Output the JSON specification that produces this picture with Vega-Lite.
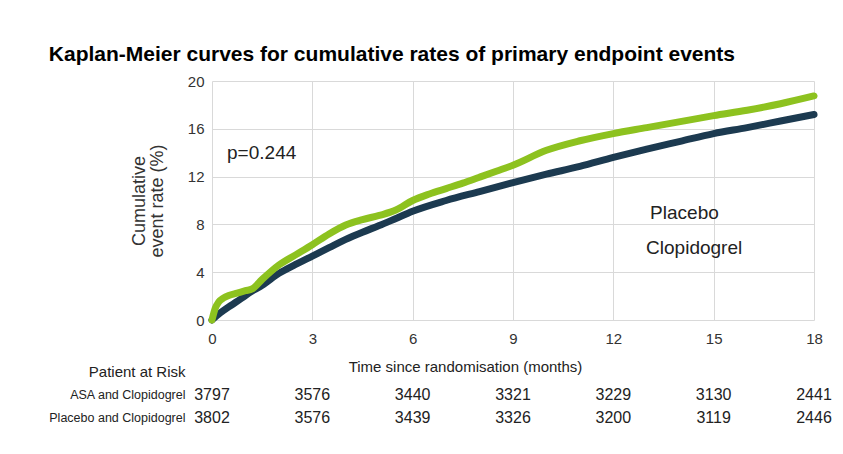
{
  "$schema": "https://vega.github.io/schema/vega-lite/v6.json",
  "background": "white",
  "padding": {"left": 48, "top": 44, "right": 8, "bottom": 5},
  "config": {"view": {"stroke": null}, "font": "Liberation Sans", "concat": {"spacing": 13}},
  "title": {"text": "Kaplan-Meier curves for cumulative rates of primary endpoint events", "anchor": "start", "frame": "bounds", "fontSize": 21, "fontWeight": "bold", "font": "Liberation Sans", "color": "#000000", "offset": 9, "dx": 0},
  "datasets": {
    "curves": [
      {"arm": "ASA and Clopidogrel", "month": 0, "rate": 0},
      {"arm": "ASA and Clopidogrel", "month": 0.25, "rate": 0.6},
      {"arm": "ASA and Clopidogrel", "month": 0.5, "rate": 1.1},
      {"arm": "ASA and Clopidogrel", "month": 0.75, "rate": 1.55},
      {"arm": "ASA and Clopidogrel", "month": 1.0, "rate": 2.05},
      {"arm": "ASA and Clopidogrel", "month": 1.25, "rate": 2.5},
      {"arm": "ASA and Clopidogrel", "month": 1.5, "rate": 2.9},
      {"arm": "ASA and Clopidogrel", "month": 2.0, "rate": 3.9},
      {"arm": "ASA and Clopidogrel", "month": 2.5, "rate": 4.65},
      {"arm": "ASA and Clopidogrel", "month": 3.0, "rate": 5.35},
      {"arm": "ASA and Clopidogrel", "month": 3.5, "rate": 6.05},
      {"arm": "ASA and Clopidogrel", "month": 4.0, "rate": 6.75},
      {"arm": "ASA and Clopidogrel", "month": 4.5, "rate": 7.35},
      {"arm": "ASA and Clopidogrel", "month": 5.0, "rate": 7.9},
      {"arm": "ASA and Clopidogrel", "month": 5.5, "rate": 8.5},
      {"arm": "ASA and Clopidogrel", "month": 6.0, "rate": 9.1},
      {"arm": "ASA and Clopidogrel", "month": 7.0, "rate": 10.0},
      {"arm": "ASA and Clopidogrel", "month": 8.0, "rate": 10.75},
      {"arm": "ASA and Clopidogrel", "month": 9.0, "rate": 11.5},
      {"arm": "ASA and Clopidogrel", "month": 10.0, "rate": 12.2},
      {"arm": "ASA and Clopidogrel", "month": 11.0, "rate": 12.85},
      {"arm": "ASA and Clopidogrel", "month": 12.0, "rate": 13.6},
      {"arm": "ASA and Clopidogrel", "month": 13.0, "rate": 14.3},
      {"arm": "ASA and Clopidogrel", "month": 14.0, "rate": 14.95},
      {"arm": "ASA and Clopidogrel", "month": 15.0, "rate": 15.6},
      {"arm": "ASA and Clopidogrel", "month": 16.0, "rate": 16.1},
      {"arm": "ASA and Clopidogrel", "month": 17.0, "rate": 16.65},
      {"arm": "ASA and Clopidogrel", "month": 18.0, "rate": 17.2},
      {"arm": "Placebo and Clopidogrel", "month": 0, "rate": 0},
      {"arm": "Placebo and Clopidogrel", "month": 0.1, "rate": 1.0},
      {"arm": "Placebo and Clopidogrel", "month": 0.2, "rate": 1.5},
      {"arm": "Placebo and Clopidogrel", "month": 0.35, "rate": 1.85},
      {"arm": "Placebo and Clopidogrel", "month": 0.5, "rate": 2.05},
      {"arm": "Placebo and Clopidogrel", "month": 0.75, "rate": 2.25},
      {"arm": "Placebo and Clopidogrel", "month": 1.0, "rate": 2.45},
      {"arm": "Placebo and Clopidogrel", "month": 1.2, "rate": 2.6},
      {"arm": "Placebo and Clopidogrel", "month": 1.5, "rate": 3.4},
      {"arm": "Placebo and Clopidogrel", "month": 2.0, "rate": 4.6},
      {"arm": "Placebo and Clopidogrel", "month": 2.5, "rate": 5.45},
      {"arm": "Placebo and Clopidogrel", "month": 3.0, "rate": 6.3},
      {"arm": "Placebo and Clopidogrel", "month": 3.5, "rate": 7.2},
      {"arm": "Placebo and Clopidogrel", "month": 4.0, "rate": 7.95},
      {"arm": "Placebo and Clopidogrel", "month": 4.5, "rate": 8.4},
      {"arm": "Placebo and Clopidogrel", "month": 5.0, "rate": 8.75},
      {"arm": "Placebo and Clopidogrel", "month": 5.5, "rate": 9.2},
      {"arm": "Placebo and Clopidogrel", "month": 6.0, "rate": 10.0},
      {"arm": "Placebo and Clopidogrel", "month": 6.5, "rate": 10.55},
      {"arm": "Placebo and Clopidogrel", "month": 7.0, "rate": 11.0},
      {"arm": "Placebo and Clopidogrel", "month": 7.5, "rate": 11.45},
      {"arm": "Placebo and Clopidogrel", "month": 8.0, "rate": 11.95},
      {"arm": "Placebo and Clopidogrel", "month": 8.5, "rate": 12.45},
      {"arm": "Placebo and Clopidogrel", "month": 9.0, "rate": 12.95},
      {"arm": "Placebo and Clopidogrel", "month": 10.0, "rate": 14.2},
      {"arm": "Placebo and Clopidogrel", "month": 11.0, "rate": 15.0},
      {"arm": "Placebo and Clopidogrel", "month": 12.0, "rate": 15.6},
      {"arm": "Placebo and Clopidogrel", "month": 13.0, "rate": 16.1},
      {"arm": "Placebo and Clopidogrel", "month": 14.0, "rate": 16.6},
      {"arm": "Placebo and Clopidogrel", "month": 15.0, "rate": 17.1},
      {"arm": "Placebo and Clopidogrel", "month": 16.0, "rate": 17.55},
      {"arm": "Placebo and Clopidogrel", "month": 17.0, "rate": 18.1},
      {"arm": "Placebo and Clopidogrel", "month": 18.0, "rate": 18.75}
    ],
    "notes": [
      {"label": "p=0.244", "month": 0.45, "rate": 13.97},
      {"label": "Placebo", "month": 13.1, "rate": 8.95},
      {"label": "Clopidogrel", "month": 12.98, "rate": 6.03}
    ],
    "risk": [
      {"arm": "ASA and Clopidogrel", "month": 0, "n": 3797},
      {"arm": "ASA and Clopidogrel", "month": 3, "n": 3576},
      {"arm": "ASA and Clopidogrel", "month": 6, "n": 3440},
      {"arm": "ASA and Clopidogrel", "month": 9, "n": 3321},
      {"arm": "ASA and Clopidogrel", "month": 12, "n": 3229},
      {"arm": "ASA and Clopidogrel", "month": 15, "n": 3130},
      {"arm": "ASA and Clopidogrel", "month": 18, "n": 2441},
      {"arm": "Placebo and Clopidogrel", "month": 0, "n": 3802},
      {"arm": "Placebo and Clopidogrel", "month": 3, "n": 3576},
      {"arm": "Placebo and Clopidogrel", "month": 6, "n": 3439},
      {"arm": "Placebo and Clopidogrel", "month": 9, "n": 3326},
      {"arm": "Placebo and Clopidogrel", "month": 12, "n": 3200},
      {"arm": "Placebo and Clopidogrel", "month": 15, "n": 3119},
      {"arm": "Placebo and Clopidogrel", "month": 18, "n": 2446}
    ]
  },
  "vconcat": [
    {
      "width": 602,
      "height": 239,
      "encoding": {
        "x": {"field": "month", "type": "quantitative", "scale": {"domain": [0, 18], "nice": false},
          "axis": {"values": [0, 3, 6, 9, 12, 15, 18], "grid": true, "gridColor": "#d9d9d9", "domain": false, "ticks": false, "labelFlush": false, "labelPadding": 11, "labelFontSize": 15, "labelColor": "#333333", "title": null}},
        "y": {"field": "rate", "type": "quantitative", "scale": {"domain": [0, 20], "nice": false},
          "axis": {"values": [0, 4, 8, 12, 16, 20], "grid": true, "gridColor": "#d9d9d9", "domain": false, "ticks": false, "labelPadding": 8, "labelFontSize": 15, "labelColor": "#333333",
            "title": ["Cumulative", "event rate (%)"], "titleFontSize": 18, "titleFontWeight": "normal", "titleColor": "#333333", "titlePadding": 21, "titleLineHeight": 18}}
      },
      "layer": [
        {
          "data": {"name": "curves"},
          "transform": [{"filter": "datum.arm === 'ASA and Clopidogrel'"}],
          "mark": {"type": "line", "strokeWidth": 7, "strokeCap": "round", "strokeJoin": "round", "interpolate": "monotone", "color": "#1c3a50"}
        },
        {
          "data": {"name": "curves"},
          "transform": [{"filter": "datum.arm === 'Placebo and Clopidogrel'"}],
          "mark": {"type": "line", "strokeWidth": 7, "strokeCap": "round", "strokeJoin": "round", "interpolate": "monotone", "color": "#8dc21f"}
        },
        {
          "data": {"name": "notes"},
          "mark": {"type": "text", "align": "left", "baseline": "middle", "fontSize": 19, "color": "#222222"},
          "encoding": {"text": {"field": "label"}}
        }
      ]
    },
    {
      "width": 602,
      "height": 69,
      "data": {"name": "risk"},
      "mark": {"type": "text", "fontSize": 16, "color": "#222222", "baseline": "middle"},
      "encoding": {
        "x": {"field": "month", "type": "quantitative", "scale": {"domain": [0, 18], "nice": false},
          "axis": {"orient": "top", "labels": false, "ticks": false, "domain": false, "grid": false,
            "title": "Time since randomisation (months)", "titleFontSize": 15, "titleFontWeight": "normal", "titleColor": "#222222", "titleX": 253, "titleY": 6, "titleBaseline": "middle"}},
        "y": {"field": "arm", "type": "ordinal", "scale": {"type": "point", "padding": 0.5, "domain": ["Patient at Risk", "ASA and Clopidogrel", "Placebo and Clopidogrel"]},
          "axis": {"title": null, "ticks": false, "domain": false, "labelPadding": 27, "labelColor": "#222222",
            "labelFontSize": {"condition": {"test": "datum.value === 'Patient at Risk'", "value": 15}, "value": 12.5}}},
        "text": {"field": "n", "type": "quantitative"}
      }
    }
  ]
}
